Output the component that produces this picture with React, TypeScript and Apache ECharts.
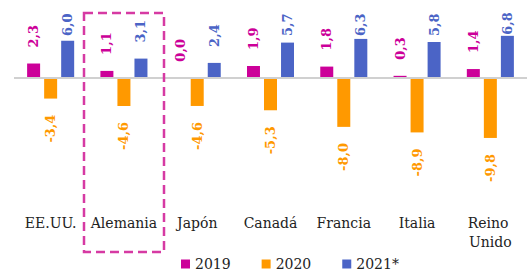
import React, { useEffect, useRef } from "react";
import * as echarts from "echarts";

const categories = ["EE.UU.", "Alemania", "Japón", "Canadá", "Francia", "Italia", "Reino Unido"];
const seriesNames = ["2019", "2020", "2021*"];
const v2019 = [2.3, 1.1, 0.0, 1.9, 1.8, 0.3, 1.4];
const v2020 = [-3.4, -4.6, -4.6, -5.3, -8.0, -8.9, -9.8];
const v2021 = [6.0, 3.1, 2.4, 5.7, 6.3, 5.8, 6.8];
const colors = ["#CC0099", "#FF9900", "#4B64C6"];

const FONT = "DejaVu Serif";

export default function App() {
  const ref = useRef<HTMLDivElement>(null);
  useEffect(() => {
    if (!ref.current) return;
    const chart = echarts.init(ref.current, null, { renderer: "svg" });
    const fmt = (p: any) => Number(p.value).toFixed(1).replace(".", ",");
    const mkSeries = (name: string, data: number[], color: string, idx: number) => ({
      name,
      type: "bar",
      data,
      barWidth: 13,
      barGap: "31%",
      itemStyle: { color },
      label: {
        show: true,
        formatter: fmt,
        rotate: 90,
        position: idx === 1 ? "bottom" : "top",
        distance: 16,
        align: idx === 1 ? "right" : "left",
        verticalAlign: "middle",
        color,
        fontFamily: FONT,
        fontWeight: "bold",
        fontSize: 13,
      },
      labelLayout:
        idx === 1
          ? undefined
          : (params: any) => {
              const r = params.labelRect;
              const bottom = r.y + r.height;
              const barTop = params.rect.y;
              if (bottom < 36) {
                return { y: Math.min(36, barTop - 1) };
              }
              return {};
            },
      markLine:
        idx === 0
          ? {
              silent: true,
              symbol: "none",
              label: { show: false },
              lineStyle: { color: "#d0d0d0", width: 2, type: "solid" },
              data: [{ yAxis: 0 }],
            }
          : undefined,
    });
    chart.setOption({
      animation: false,
      grid: { left: 14, right: -3, top: 10, bottom: 66 },
      legend: {
        data: seriesNames,
        icon: "rect",
        itemWidth: 9,
        itemHeight: 9,
        itemGap: 31,
        left: 181,
        top: 257,
        padding: 0,
        textStyle: { fontFamily: FONT, fontSize: 14, color: "#222" },
      },
      xAxis: {
        type: "category",
        data: categories,
        axisLine: { show: false, onZero: false },
        axisTick: { show: false },
        axisLabel: {
          fontFamily: FONT,
          fontSize: 14,
          color: "#222",
          lineHeight: 19,
          width: 72,
          overflow: "break",
          margin: 8,
          interval: 0,
        },
      },
      yAxis: {
        type: "value",
        min: -20.7,
        max: 11,
        show: false,
        splitLine: { show: false },
      },
      graphic: [
        {
          type: "rect",
          shape: { x: 84, y: 13, width: 80, height: 239 },
          style: { fill: "none", stroke: "#D63AA3", lineWidth: 2.5, lineDash: [9, 5] },
          z: 100,
        },
      ],
      series: [
        mkSeries(seriesNames[0], v2019, colors[0], 0),
        mkSeries(seriesNames[1], v2020, colors[1], 1),
        mkSeries(seriesNames[2], v2021, colors[2], 2),
      ],
    });
    return () => chart.dispose();
  }, []);
  return (
    <div
      ref={ref}
      style={{ position: "fixed", left: 0, top: 0, width: 529, height: 271, background: "#fff" }}
    />
  );
}
